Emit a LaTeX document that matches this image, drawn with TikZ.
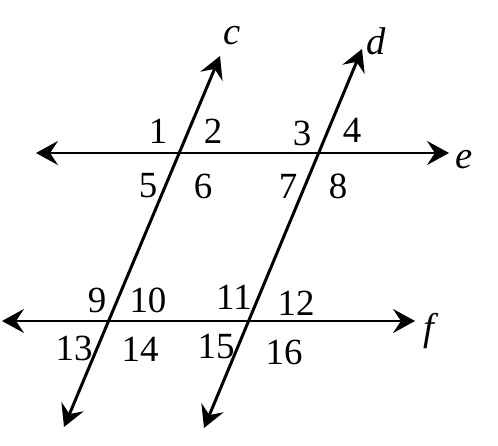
\documentclass[tikz,border=0pt]{standalone}
\usepackage{fontspec}
\setmainfont{Liberation Serif}
\usetikzlibrary{arrows.meta, calc}
\tikzset{
  lineline/.style = {
    line width=1.7pt, {Stealth[length=4.4mm, width=4.8mm, inset=1.6mm]}-{Stealth[length=4.4mm, width=4.8mm, inset=1.6mm]}
  },
  num/.style = {
    font=\fontsize{21}{21}\selectfont, inner sep=0pt
  },
  linename/.style = {
    font=\fontsize{22}{22}\selectfont\itshape, inner sep=0pt
  }
}

\begin{document}
\begin{tikzpicture}[x=0.02cm, y=-0.02cm]
  \useasboundingbox (0,0) rectangle (498,446);

  % End points of the four lines
  \coordinate (eL) at (36,153);
  \coordinate (eR) at (449,153);
  \coordinate (fL) at (2,321);
  \coordinate (fR) at (415,321);
  \coordinate (cT) at (220,56);
  \coordinate (cB) at (64,427);
  \coordinate (dT) at (362,49);
  \coordinate (dB) at (204,428);

  % Lines
  \draw[lineline] (eL) -- (eR);
  \draw[lineline] (fL) -- (fR);
  \draw[lineline] (cB) -- (cT);
  \draw[lineline] (dB) -- (dT);

  % Line names
  \node[linename] (nc) at (232,36) {c};
  \node[linename] (nd) at (376,41) {d};
  \node[linename] (ne) at (464,160) {e};
  \node[linename] (nf) at (429,331) {f};

  % Angle numbers (top row)
  \node[num] (a1) at (158,131) {1};
  \node[num] (a2) at (213,131) {2};
  \node[num] (a3) at (302,133) {3};
  \node[num] (a4) at (352,130) {4};
  \node[num] (a5) at (148,186) {5};
  \node[num] (a6) at (203,186) {6};
  \node[num] (a7) at (288,186) {7};
  \node[num] (a8) at (338,186) {8};

  % Angle numbers (bottom row)
  \node[num] (a9) at (97,300) {9};
  \node[num] (a10) at (148,300) {10};
  \node[num] (a11) at (234,297) {11};
  \node[num] (a12) at (296,303) {12};
  \node[num] (a13) at (74,348) {13};
  \node[num] (a14) at (140,349) {14};
  \node[num] (a15) at (216,347) {15};
  \node[num] (a16) at (284,352) {16};

\end{tikzpicture}
\end{document}
